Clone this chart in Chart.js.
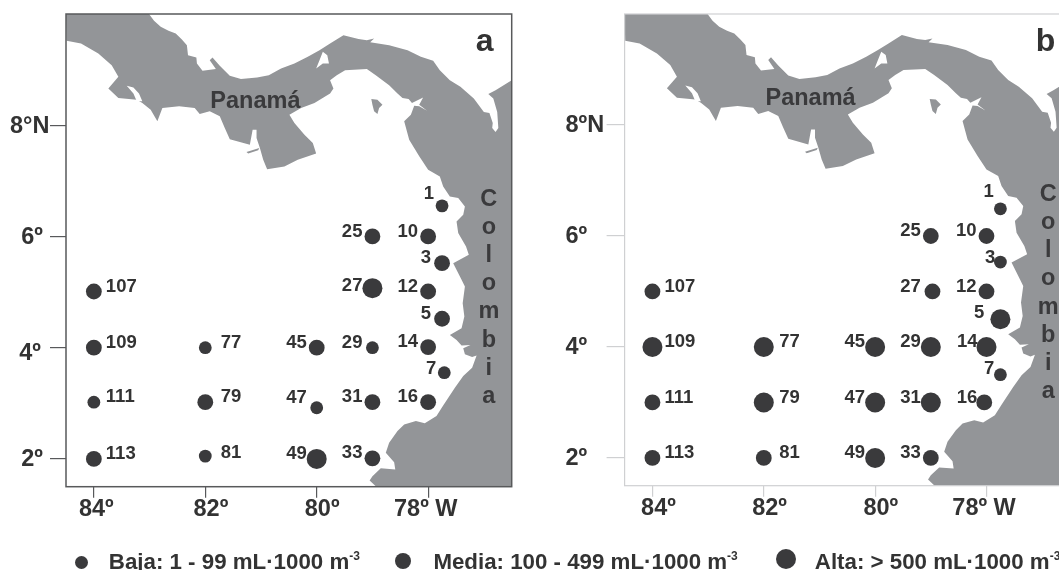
<!DOCTYPE html>
<html lang="es">

<head>
    <meta charset="UTF-8">
    <title>Estaciones Panamá - Colombia</title>
    <script src="https://cdn.jsdelivr.net/npm/chart.js@4.4.0/dist/chart.umd.min.js"></script>
    <style>
        html, body { margin: 0; width: 1059px; height: 570px; overflow: hidden; background: #fff; }
        canvas { position: absolute; top: 0; }
        #chartA { left: 0; }
        #chartB { left: 530px; }
        .key { position: absolute; font: bold 22.3px "Liberation Sans", Arial, sans-serif; color: #333; white-space: nowrap; }
        .key sup { font-size: 12px; line-height: 0; vertical-align: 9px; }
        .dot { position: absolute; border-radius: 50%; background: #3a3a3c; }
    </style>
</head>

<body>
    <canvas id="chartA" width="530" height="570"></canvas>
    <canvas id="chartB" width="550" height="570"></canvas>

    <div class="dot" style="left:75px;top:556px;width:13px;height:13px"></div>
    <div class="key" style="left:108.8px;top:548.5px">Baja: 1 - 99 mL·1000 m<sup>-3</sup></div>
    <div class="dot" style="left:395px;top:553px;width:16px;height:16px"></div>
    <div class="key" style="left:433.4px;top:548.5px">Media: 100 - 499 mL·1000 m<sup>-3</sup></div>
    <div class="dot" style="left:775.7px;top:549px;width:20px;height:20px"></div>
    <div class="key" style="left:814.8px;top:548.5px">Alta: &gt; 500 mL·1000 m<sup>-3</sup></div>

    <script>
        // stations, same order in both panels
        const stations = ['1', '25', '10', '3', '27', '12', '5', '14', '29', '45', '77', '109', '107', '111', '79', '47', '31', '16', '7', '33', '49', '81', '113'];

        const lonA = [77.75, 79, 78, 77.75, 79, 78, 77.75, 78, 79, 80, 82, 84, 84, 84, 82, 80, 79, 78, 77.71, 79, 80, 82, 84];
        const latA = [6.55, 6.0, 6.0, 5.52, 5.07, 5.01, 4.52, 4.01, 4.0, 4.0, 4.0, 4.0, 5.01, 3.02, 3.02, 2.92, 3.02, 3.02, 3.55, 2.01, 2.0, 2.05, 2.0];
        const classA = ['Baja', 'Media', 'Media', 'Media', 'Alta', 'Media', 'Media', 'Media', 'Baja', 'Media', 'Baja', 'Media', 'Media', 'Baja', 'Media', 'Baja', 'Media', 'Media', 'Baja', 'Media', 'Alta', 'Baja', 'Media'];

        const lonB = [77.75, 79, 78, 77.75, 78.97, 78, 77.75, 78, 79, 80, 82, 84, 84, 84, 82, 80, 79, 78.04, 77.75, 79, 80, 82, 84];
        const latB = [6.49, 6.0, 6.0, 5.53, 5.0, 5.0, 4.5, 4.0, 4.0, 4.0, 4.0, 4.0, 5.0, 3.0, 3.0, 3.0, 3.0, 3.0, 3.5, 2.0, 2.0, 2.0, 2.0];
        const classB = ['Baja', 'Media', 'Media', 'Baja', 'Media', 'Media', 'Alta', 'Alta', 'Alta', 'Alta', 'Alta', 'Alta', 'Media', 'Media', 'Alta', 'Alta', 'Alta', 'Media', 'Baja', 'Media', 'Alta', 'Media', 'Media'];

        const lonTicks = [84, 82, 80, 78];
        const lonLabels = ['84º', '82º', '80º', '78º W'];
        const latTicks = [8, 6, 4, 2];
        const latLabelsA = ['8°N', '6º', '4º', '2º'];
        const latLabelsB = ['8ºN', '6º', '4º', '2º'];

        // coast outline, walked clockwise from the top left corner
        const coastLon = [84.5, 83.01, 82.92, 82.80, 82.66, 82.53, 82.42, 82.33, 82.31, 82.16, 82.15, 82.05, 81.81, 81.92, 81.87, 81.74, 81.56, 81.36, 81.07, 80.86, 80.64, 80.40, 80.16, 79.95, 79.76, 79.52, 79.25, 79.10, 78.97, 79.04, 78.70, 78.37, 78.13, 77.91, 77.79, 77.61, 77.42, 77.18, 77.00, 76.90, 76.84, 76.85, 76.79, 76.74, 76.76, 76.83, 76.92, 76.79, 76.5, 76.5, 78.93, 79.05, 79.00, 78.85, 78.59, 78.61, 78.76, 78.70, 78.55, 78.43, 78.22, 78.06, 77.85, 77.73, 77.52, 77.37, 77.21, 77.13, 77.21, 77.34, 77.37, 77.24, 77.40, 77.49, 77.61, 77.40, 77.35, 77.38, 77.34, 77.40, 77.55, 77.27, 77.32, 77.46, 77.49, 77.37, 77.34, 77.46, 77.61, 77.73, 77.79, 78.00, 78.16, 78.34, 78.43, 78.31, 78.25, 78.16, 78.02, 78.16, 78.09, 78.29, 78.35, 78.46, 78.55, 78.70, 78.94, 79.10, 79.49, 79.64, 79.76, 79.70, 79.76, 80.04, 80.28, 80.49, 80.40, 80.22, 80.07, 80.01, 80.34, 80.58, 80.89, 80.96, 81.02, 81.08, 81.08, 81.15, 81.20, 81.56, 81.65, 81.74, 81.92, 82.10, 82.19, 82.47, 82.77, 82.86, 82.98, 83.13, 83.23, 83.56, 83.74, 83.56, 83.68, 83.92, 84.23, 84.49];
        const coastLat = [10, 10, 9.88, 9.77, 9.70, 9.65, 9.54, 9.44, 9.26, 9.22, 9.11, 8.98, 9.01, 9.17, 9.22, 9.07, 8.89, 8.83, 8.86, 8.90, 9.02, 9.11, 9.23, 9.35, 9.47, 9.62, 9.55, 9.53, 9.56, 9.49, 9.44, 9.35, 9.23, 9.16, 8.99, 8.81, 8.69, 8.48, 8.24, 8.22, 8.04, 7.95, 7.88, 7.95, 8.24, 8.48, 8.56, 8.63, 8.81, 1.5, 1.5, 1.61, 1.69, 1.83, 1.81, 1.94, 2.11, 2.29, 2.50, 2.62, 2.68, 2.64, 2.77, 2.96, 3.28, 3.49, 3.64, 3.86, 3.83, 3.88, 3.99, 4.05, 4.04, 4.14, 4.23, 4.35, 4.56, 4.80, 5.10, 5.22, 5.52, 5.67, 5.82, 6.06, 6.27, 6.39, 6.54, 6.69, 6.72, 6.90, 7.08, 7.20, 7.44, 7.74, 8.07, 8.19, 8.35, 8.34, 8.26, 8.37, 8.50, 8.40, 8.47, 8.49, 8.57, 8.72, 8.90, 9.01, 8.99, 8.90, 8.81, 8.66, 8.57, 8.40, 8.31, 8.19, 8.04, 7.83, 7.68, 7.49, 7.38, 7.26, 7.21, 7.38, 7.59, 7.77, 7.92, 7.92, 7.65, 7.75, 7.95, 8.16, 8.25, 8.20, 8.31, 8.34, 8.31, 8.07, 8.28, 8.40, 8.46, 8.49, 8.66, 8.87, 9.08, 9.29, 9.47, 9.52];

        // water cut into the land
        const chiriquiLon = [83.41, 83.29, 83.19, 83.13, 83.23, 83.29];
        const chiriquiLat = [8.71, 8.68, 8.57, 8.43, 8.43, 8.57];
        const gatunLon = [79.89, 79.81, 79.78, 79.89, 80.01, 79.95];
        const gatunLat = [9.32, 9.26, 9.11, 9.11, 9.02, 9.17];

        // islands
        const coibaLon = [81.26, 81.03, 81.05, 81.23];
        const coibaLat = [7.52, 7.59, 7.55, 7.49];
        const perlasLon = [79.02, 78.91, 78.82, 78.88, 78.91, 78.97, 79.00];
        const perlasLat = [8.47, 8.46, 8.37, 8.31, 8.20, 8.25, 8.37];

        const classNames = ['Baja', 'Media', 'Alta'];
        const classRadius = { Baja: 6.4, Media: 7.9, Alta: 10 };
        const landColor = '#939598';
        const dotColor = '#3a3a3c';
        const textColor = '#333333';
        const fontFamily = '"Liberation Sans", Arial, sans-serif';

        function toPoints(lons, lats) {
            return lons.map((lon, i) => ({ x: lon, y: lats[i] }));
        }

        function shape(lons, lats, color) {
            return {
                type: 'scatter',
                data: toPoints(lons, lats),
                showLine: true,
                fill: 'shape',
                tension: 0,
                pointRadius: 0,
                borderWidth: 0,
                borderColor: color,
                backgroundColor: color
            };
        }

        // index 0 is painted last, so dots come first and land goes last
        function buildDatasets(lons, lats, classes) {
            const dots = classNames.map(name => {
                const idx = classes.map((c, i) => c === name ? i : -1).filter(i => i >= 0);
                return {
                    label: name,
                    data: idx.map(i => ({ x: lons[i], y: lats[i] })),
                    pointRadius: classRadius[name],
                    pointBackgroundColor: dotColor,
                    pointBorderWidth: 0,
                    showLine: false
                };
            });
            return dots.concat([
                shape(chiriquiLon, chiriquiLat, '#ffffff'),
                shape(gatunLon, gatunLat, '#ffffff'),
                shape(coibaLon, coibaLat, landColor),
                shape(perlasLon, perlasLat, landColor),
                shape(coastLon, coastLat, landColor)
            ]);
        }

        // plugin for what the scales do not draw: frame, axis text, station numbers, names
        function mapExtras(cfg) {
            return {
                id: 'mapExtras',
                afterDatasetsDraw(chart) {
                    const { ctx, chartArea: area, scales } = chart;
                    ctx.save();
                    ctx.strokeStyle = cfg.frameColor;
                    ctx.lineWidth = cfg.frameWidth;
                    ctx.strokeRect(area.left, area.top, area.width, area.height);

                    ctx.fillStyle = textColor;
                    ctx.textBaseline = 'middle';
                    ctx.font = 'bold 18.5px ' + fontFamily;
                    stations.forEach((name, i) => {
                        const px = scales.x.getPixelForValue(cfg.lons[i]);
                        const py = scales.y.getPixelForValue(cfg.lats[i]);
                        const right = cfg.lons[i] > 81;
                        const off = cfg.offsets[name] || {};
                        const dx = off.dx !== undefined ? off.dx : (right ? (cfg.lons[i] > 83 ? 12 : 15.5) : -10);
                        const dy = off.dy !== undefined ? off.dy : -5;
                        ctx.textAlign = right ? 'left' : 'right';
                        ctx.fillText(name, px + dx, py + dy);
                    });

                    // axis labels sit a little off their ticks in the original
                    ctx.font = 'bold 23.5px ' + fontFamily;
                    ctx.textAlign = 'center';
                    lonTicks.forEach((v, i) => {
                        ctx.fillText(lonLabels[i], scales.x.getPixelForValue(v) + cfg.lonDx[i], cfg.lonLabelY);
                    });
                    ctx.textAlign = 'left';
                    latTicks.forEach((v, i) => {
                        ctx.fillText(cfg.latLabels[i], cfg.latX[i], scales.y.getPixelForValue(v) + cfg.latDy[i]);
                    });

                    ctx.fillStyle = '#3a3a3c';
                    ctx.textAlign = 'center';
                    ctx.fillText('Panamá', scales.x.getPixelForValue(cfg.panamaLon), scales.y.getPixelForValue(cfg.panamaLat));
                    const cx = scales.x.getPixelForValue(cfg.colombiaLon);
                    const cy = scales.y.getPixelForValue(cfg.colombiaLat);
                    'Colombia'.split('').forEach((ch, i) => ctx.fillText(ch, cx, cy + i * 28.2));

                    ctx.fillStyle = textColor;
                    ctx.textAlign = 'left';
                    ctx.textBaseline = 'alphabetic';
                    ctx.font = 'bold 32px ' + fontFamily;
                    ctx.fillText(cfg.letter, cfg.letterX, 51);
                    ctx.restore();
                }
            };
        }

        function drawPanel(canvasId, cfg) {
            const ctx = document.getElementById(canvasId).getContext('2d');
            return new Chart(ctx, {
                type: 'scatter',
                data: { datasets: buildDatasets(cfg.lons, cfg.lats, cfg.classes) },
                options: {
                    responsive: false,
                    animation: false,
                    events: [],
                    layout: { padding: { top: 14, right: cfg.rightPad, left: 0, bottom: 0 } },
                    plugins: { legend: { display: false }, tooltip: { enabled: false } },
                    scales: {
                        x: {
                            type: 'linear',
                            reverse: true,
                            min: 76.5,
                            max: 84.5,
                            afterBuildTicks(scale) { scale.ticks = lonTicks.map(v => ({ value: v })); },
                            afterFit(scale) { scale.height = cfg.xHeight; },
                            grid: { drawOnChartArea: false, color: cfg.frameColor, lineWidth: cfg.tickWidth, tickLength: 11 },
                            border: { display: false },
                            ticks: { display: false }
                        },
                        y: {
                            type: 'linear',
                            min: 1.5,
                            max: 10,
                            afterBuildTicks(scale) { scale.ticks = latTicks.map(v => ({ value: v })); },
                            afterFit(scale) { scale.width = cfg.yWidth; },
                            grid: { drawOnChartArea: false, color: cfg.frameColor, lineWidth: cfg.tickWidth, tickLength: cfg.yTick },
                            border: { display: false },
                            ticks: { display: false }
                        }
                    }
                },
                plugins: [mapExtras(cfg)]
            });
        }

        drawPanel('chartA', {
            lons: lonA, lats: latA, classes: classA,
            offsets: {
                '1': { dx: -8, dy: -12 }, '3': { dx: -11 }, '5': { dx: -11 }, '7': { dx: -8, dy: -3.5 },
                '47': { dy: -10 }, '27': { dy: -2 }, '81': { dy: -3 }
            },
            panamaLon: 81.10, panamaLat: 8.43,
            colombiaLon: 76.91, colombiaLat: 6.67,
            letter: 'a', letterX: 475.7,
            latLabels: latLabelsA, latX: [10, 21.3, 19.3, 21.3], latDy: [1, 1, 6, 1],
            lonDx: [2.4, 5.6, 5.4, -2.4], lonLabelY: 510,
            frameColor: '#58595b', frameWidth: 1.5, tickWidth: 1.2,
            rightPad: 18.3, xHeight: 83.3, yWidth: 66, yTick: 16
        });

        drawPanel('chartB', {
            lons: lonB, lats: latB, classes: classB,
            offsets: {
                '1': { dx: -6.5, dy: -17 }, '3': { dx: -5, dy: -4 }, '5': { dx: -16, dy: -6 }, '7': { dx: -6, dy: -6 },
                '14': { dx: -9 }, '16': { dx: -7 }, '27': { dx: -11.7 }
            },
            panamaLon: 81.16, panamaLat: 8.48,
            colombiaLon: 76.89, colombiaLat: 6.75,
            letter: 'b', letterX: 505.7,
            latLabels: latLabelsB, latX: [35.5, 35.5, 35.5, 35.5], latDy: [1, 0.5, 1, 0.5],
            lonDx: [6, 5.7, 5.7, -2.4], lonLabelY: 508.7,
            frameColor: '#cfd0d2', frameWidth: 1.2, tickWidth: 1.2,
            rightPad: 9.4, xHeight: 84.3, yWidth: 94.6, yTick: 18
        });
    </script>
</body>

</html>
